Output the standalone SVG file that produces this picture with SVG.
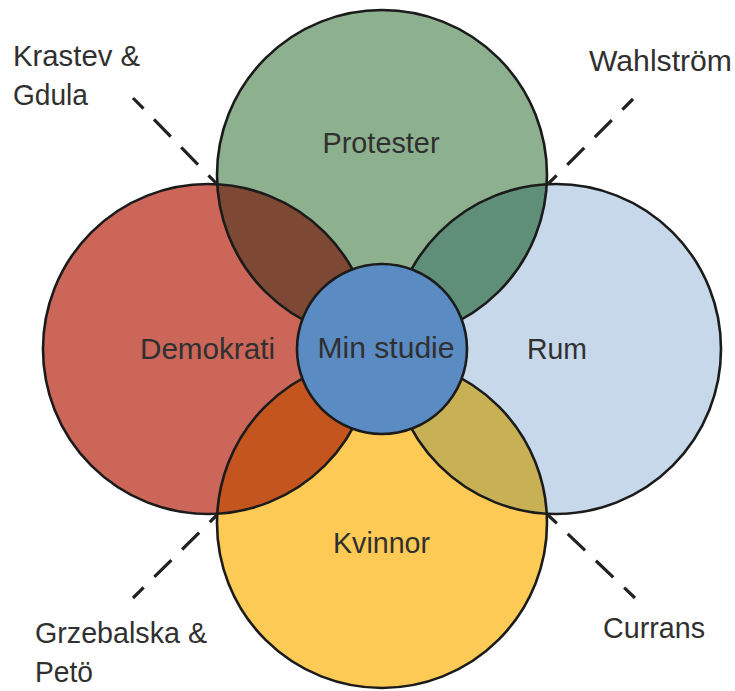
<svg xmlns="http://www.w3.org/2000/svg" width="735" height="691" viewBox="0 0 735 691">
<style>
.lbl{font-family:"Liberation Sans","DejaVu Sans",sans-serif;font-size:29px;fill:#303030}
.ol{fill:none;stroke:#1b1b1b;stroke-width:2.6}
.dash{fill:none;stroke:#222;stroke-width:3.2;stroke-dasharray:24 15;stroke-dashoffset:9}
</style>
<defs>
<clipPath id="cTop"><circle cx="382" cy="175" r="165"/></clipPath>
<clipPath id="cBot"><circle cx="382" cy="523" r="165"/></clipPath>
</defs>
<rect width="735" height="691" fill="#ffffff"/>
<g id="protester"><circle cx="382" cy="175" r="165" fill="#8DB08E"/></g>
<g id="demokrati"><circle cx="208" cy="349" r="165" fill="#CB6658"/></g>
<g id="rum"><circle cx="556" cy="349" r="165" fill="#C6D8EA"/></g>
<g id="kvinnor"><circle cx="382" cy="523" r="165" fill="#FDCB55"/></g>
<g id="overlaps">
<circle cx="208" cy="349" r="165" fill="#7D4935" clip-path="url(#cTop)"/>
<circle cx="556" cy="349" r="165" fill="#5F8F79" clip-path="url(#cTop)"/>
<circle cx="208" cy="349" r="165" fill="#C5551F" clip-path="url(#cBot)"/>
<circle cx="556" cy="349" r="165" fill="#C8B055" clip-path="url(#cBot)"/>
</g>
<g id="outlines">
<circle class="ol" cx="382" cy="175" r="165"/>
<circle class="ol" cx="208" cy="349" r="165"/>
<circle class="ol" cx="556" cy="349" r="165"/>
<circle class="ol" cx="382" cy="523" r="165"/>
</g>
<g id="min-studie"><circle cx="382" cy="349" r="85" fill="#5A8BC3" stroke="#1b1b1b" stroke-width="2.6"/>
<text class="lbl" x="386" y="358" text-anchor="middle" textLength="137" lengthAdjust="spacingAndGlyphs">Min studie</text></g>
<g id="protester-label"><text class="lbl" x="381" y="153" text-anchor="middle" textLength="117" lengthAdjust="spacingAndGlyphs">Protester</text></g>
<g id="demokrati-label"><text class="lbl" x="140" y="359" textLength="135" lengthAdjust="spacingAndGlyphs">Demokrati</text></g>
<g id="rum-label"><text class="lbl" x="527" y="359" textLength="60" lengthAdjust="spacingAndGlyphs">Rum</text></g>
<g id="kvinnor-label"><text class="lbl" x="333" y="553" textLength="97" lengthAdjust="spacingAndGlyphs">Kvinnor</text></g>
<g id="connectors">
<line class="dash" x1="133" y1="98" x2="217" y2="184"/>
<line class="dash" x1="633" y1="99" x2="548" y2="184"/>
<line class="dash" x1="133" y1="598" x2="217" y2="515"/>
<line class="dash" x1="635" y1="598" x2="548" y2="515"/>
</g>
<g id="krastev-gdula"><text class="lbl" x="13" y="66" textLength="127" lengthAdjust="spacingAndGlyphs">Krastev &amp;</text><text class="lbl" x="13" y="105" textLength="75" lengthAdjust="spacingAndGlyphs">Gdula</text></g>
<g id="wahlstrom"><text class="lbl" x="589" y="71" textLength="143" lengthAdjust="spacingAndGlyphs">Wahlström</text></g>
<g id="grzebalska-peto"><text class="lbl" x="35" y="643" textLength="172" lengthAdjust="spacingAndGlyphs">Grzebalska &amp;</text><text class="lbl" x="35" y="682" textLength="58" lengthAdjust="spacingAndGlyphs">Petö</text></g>
<g id="currans"><text class="lbl" x="603" y="638" textLength="102" lengthAdjust="spacingAndGlyphs">Currans</text></g>
</svg>
